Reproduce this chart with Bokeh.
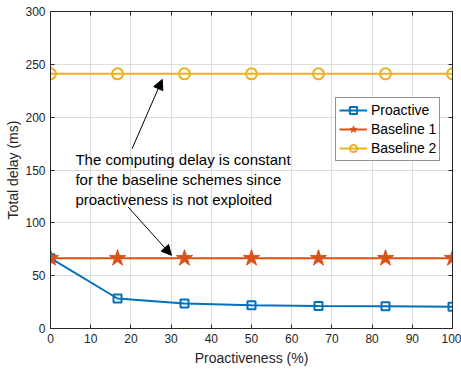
from bokeh.plotting import figure
from bokeh.models import (LinearAxis, Range1d, Label, Arrow, NormalHead, Legend,
                          LegendItem, FixedTicker, CustomLabelingPolicy)
from bokeh.embed import file_html
from bokeh.resources import INLINE

# ---- data ----
proactiveness = [0, 16.67, 33.33, 50, 66.67, 83.33, 100]
proactive = [66.5, 28.4, 23.6, 22.0, 21.4, 21.1, 20.5]
baseline1 = [66.5, 66.5, 66.5, 66.5, 66.5, 66.5, 66.5]
baseline2 = [241.0, 241.0, 241.0, 241.0, 241.0, 241.0, 241.0]
x_ticks = [0, 10, 20, 30, 40, 50, 60, 70, 80, 90, 100]
y_ticks = [0, 50, 100, 150, 200, 250, 300]
note_lines = ["The computing delay is constant",
              "for the baseline schemes since",
              "proactiveness is not exploited"]
note_x = 6.2
note_y = [160.1, 141.2, 122.2]
arrow_up = (20.3, 170.2, 27.8, 235.7)
arrow_down = (19.3, 115.0, 30.1, 69.3)

BLUE = "#0072BD"
ORANGE = "#D95319"
YELLOW = "#EDB120"
AX = "#262626"
FONT = "Liberation Sans"

p = figure(width=461, height=372, x_range=Range1d(0, 100), y_range=Range1d(0, 300),
           output_backend="svg", toolbar_location=None,
           min_border_left=50, min_border_right=9, min_border_top=11, min_border_bottom=44)
p.background_fill_color = "white"
p.border_fill_color = "white"
p.outline_line_color = AX
p.outline_line_width = 1
p.outline_line_alpha = 1

def style_axis(ax, ticks, show_labels=True):
    ax.ticker = FixedTicker(ticks=ticks)
    ax.axis_line_color = AX
    ax.major_tick_line_color = AX
    ax.major_tick_in = 4
    ax.major_tick_out = 0
    ax.minor_tick_line_color = None
    ax.major_label_text_font = FONT
    ax.major_label_text_color = AX
    if show_labels:
        ax.major_label_text_font_size = "12px"
        ax.major_label_standoff = 5
    else:
        ax.major_label_text_font_size = "1px"
        ax.major_label_standoff = 0
        ax.major_label_policy = CustomLabelingPolicy(code="return new Set()")

style_axis(p.xaxis[0], x_ticks)
style_axis(p.yaxis[0], y_ticks)
p.xaxis[0].axis_label = "Proactiveness (%)"
p.yaxis[0].axis_label = "Total delay (ms)"
for ax in (p.xaxis[0], p.yaxis[0]):
    ax.axis_label_text_font = FONT
    ax.axis_label_text_font_size = "14px"
    ax.axis_label_text_font_style = "normal"
    ax.axis_label_text_color = AX
p.xaxis[0].axis_label_standoff = 4
p.yaxis[0].axis_label_standoff = 1

top = LinearAxis()
right = LinearAxis()
style_axis(top, x_ticks, False)
style_axis(right, y_ticks, False)
p.add_layout(top, "above")
p.add_layout(right, "right")

p.xgrid.ticker = FixedTicker(ticks=x_ticks)
p.ygrid.ticker = FixedTicker(ticks=y_ticks)
p.grid.grid_line_color = "#DEDEDE"
p.grid.grid_line_width = 1

# ---- series ----
l1 = p.line(proactiveness, proactive, line_color=BLUE, line_width=2)
s1 = p.scatter(proactiveness, proactive, marker="square", size=8, line_color=BLUE,
               line_width=2, fill_color=None)
l2 = p.line(proactiveness, baseline1, line_color=ORANGE, line_width=2)
s2 = p.scatter(proactiveness, baseline1, marker="star", size=17, line_color=ORANGE,
               line_width=1, fill_color=ORANGE)
l3 = p.line(proactiveness, baseline2, line_color=YELLOW, line_width=2)
s3 = p.scatter(proactiveness, baseline2, marker="circle", size=11, line_color=YELLOW,
               line_width=2, fill_color=None)

# ---- annotation ----
for txt, yy in zip(note_lines, note_y):
    p.add_layout(Label(x=note_x, y=yy, text=txt, text_font=FONT, text_font_size="15px",
                       text_color="black", text_baseline="middle", text_align="left"))
for (xs, ys, xe, ye) in (arrow_up, arrow_down):
    p.add_layout(Arrow(end=NormalHead(size=10, fill_color="black", line_color="black"),
                       x_start=xs, y_start=ys, x_end=xe, y_end=ye,
                       line_color="black", line_width=1))

legend = Legend(items=[LegendItem(label="Proactive", renderers=[l1, s1]),
                       LegendItem(label="Baseline 1", renderers=[l2, s2]),
                       LegendItem(label="Baseline 2", renderers=[l3, s3])],
                location=(285, 167))
legend.label_text_font = FONT
legend.label_text_font_size = "14px"
legend.label_text_color = "black"
legend.glyph_width = 28
legend.glyph_height = 18
legend.label_height = 18
legend.label_standoff = 4
legend.spacing = 1
legend.padding = 3
legend.margin = 0
legend.border_line_color = AX
legend.border_line_width = 1
legend.background_fill_color = "white"
legend.background_fill_alpha = 1
p.add_layout(legend)

open("out.html", "w").write(file_html(p, INLINE))
